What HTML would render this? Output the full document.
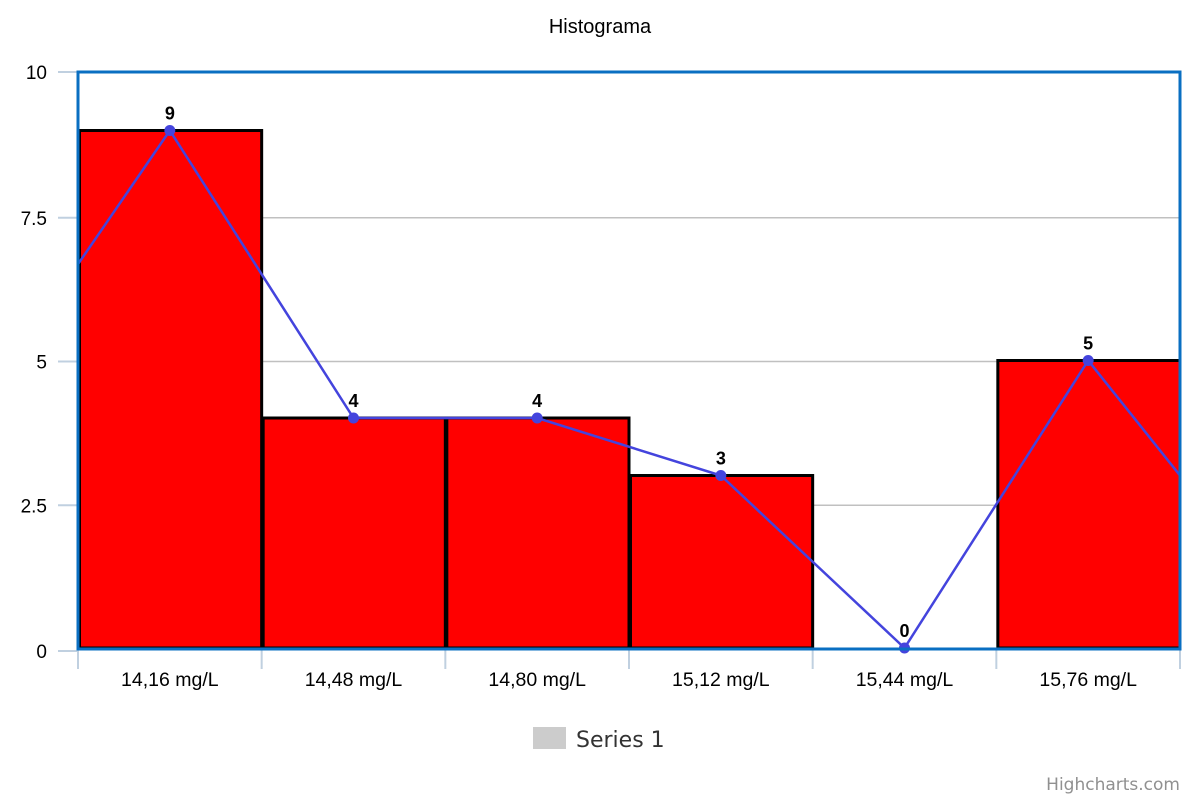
<!DOCTYPE html>
<html><head><meta charset="utf-8"><style>
body{margin:0;background:#fff;}
svg{display:block;font-family:"Liberation Sans",Arial,sans-serif;}
</style></head><body>
<svg id="chart" width="1200" height="800">
<text x="600" y="33" text-anchor="middle" font-size="20" fill="#000">Histograma</text>
<g id="grid"></g><g id="bars"></g><g id="line"></g><g id="labels"></g>
<rect x="78" y="72" width="1102" height="577" fill="none" stroke="#0a6fc2" stroke-width="3"/>
<g>
<rect x="533" y="727" width="33" height="22" fill="#ccc"/>
<text x="576" y="747" font-size="22" fill="#333" font-family="DejaVu Sans, sans-serif">Series 1</text>
</g>
<text x="1180" y="790" text-anchor="end" font-size="17" fill="#909090" font-family="DejaVu Sans, sans-serif">Highcharts.com</text>
</svg>
<script>
const categories=["14,16 mg/L","14,48 mg/L","14,80 mg/L","15,12 mg/L","15,44 mg/L","15,76 mg/L"];
const values=[9,4,4,3,0,5];
const yTicks=[0,2.5,5,7.5,10];
const yTickLabels=["0","2.5","5","7.5","10"];
const lineLeftEdge=4.35;
const lineRightEdge=1;
const NS="http://www.w3.org/2000/svg";
const L=78,R=1180,T=73,B=648,yMax=10;
const cw=(R-L)/categories.length;
const y=v=>B-v/yMax*(B-T);
const xc=i=>L+cw*(i+0.5);
function mk(tag,attrs,parent,text){const e=document.createElementNS(NS,tag);for(const k in attrs)e.setAttribute(k,attrs[k]);if(text!==undefined)e.textContent=text;document.getElementById(parent).appendChild(e);return e;}
yTicks.forEach((t,i)=>{
 const gy=t===0?651:(t===yMax?72:y(t)+1);
 if(t>0&&t<yMax){const g=mk('line',{x1:L,x2:R,y1:gy,y2:gy,stroke:'#c0c0c0','stroke-width':1.5},'grid');
 
 }
 const tk=mk('line',{x1:58,x2:L,y1:gy,y2:gy,stroke:'#c0d0e0','stroke-width':2},'grid');
 
 
 const lb=mk('text',{x:47,y:gy+7,'text-anchor':'end','font-size':19,fill:'#000'},'grid',yTickLabels[i]);
 
 
});
for(let i=0;i<=categories.length;i++){
 const tk=mk('line',{x1:L+cw*i,x2:L+cw*i,y1:B+2,y2:669,stroke:'#c0d0e0','stroke-width':2},'grid');
 
 
}
categories.forEach((c,i)=>{
 const lb=mk('text',{x:xc(i),y:686,'text-anchor':'middle','font-size':19.5,fill:'#000'},'grid',c);
 
 
 if(values[i]>0){
  const b=mk('rect',{x:L+cw*i+1.5,y:y(values[i]),width:cw-1.5,height:B-y(values[i]),fill:'#ff0000',stroke:'#000','stroke-width':3},'bars');
  
  
 }
});
const pts=[[xc(-1),y(lineLeftEdge)]].concat(values.map((v,i)=>[xc(i),y(v)])).concat([[xc(categories.length),y(lineRightEdge)]]);
mk('clipPath',{id:'clp'},'line');
const cp=document.getElementById('clp');const cr=document.createElementNS(NS,'rect');
cr.setAttribute('x',L);cr.setAttribute('y',T-20);cr.setAttribute('width',R-L);cr.setAttribute('height',B-T+40);cp.appendChild(cr);
const pl=mk('polyline',{points:pts.map(p=>p.join(',')).join(' '),fill:'none',stroke:'#4444dd','stroke-width':2.5,'clip-path':'url(#clp)'},'line');


values.forEach((v,i)=>{
 const c=mk('circle',{cx:xc(i),cy:y(v),r:5.5,fill:'#4444dd'},'line');
 
 
 const t=mk('text',{x:xc(i),y:y(v)-11,'text-anchor':'middle','font-size':18,'font-weight':'bold',fill:'#000'},'labels',String(v));
 
 
});
</script>
</body></html>
